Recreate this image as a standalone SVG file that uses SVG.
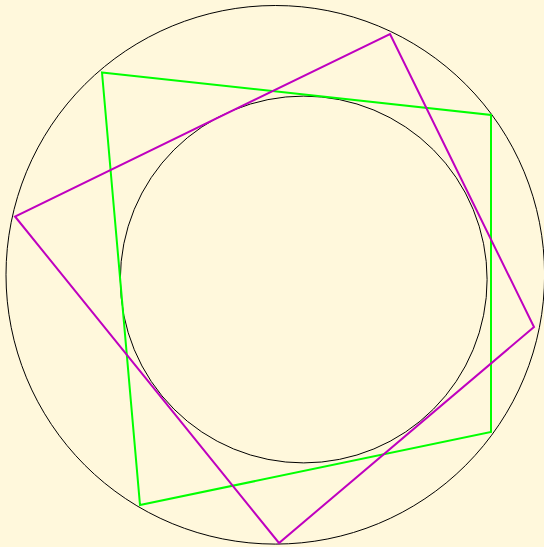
<svg xmlns="http://www.w3.org/2000/svg" width="544" height="547" viewBox="0 0 544 547">
<style>
.c{fill:none;stroke:#000;stroke-width:1}
.g{fill:none;stroke:#00ff00;stroke-width:2}
.m{fill:none;stroke:#bf00bf;stroke-width:2}
</style>
<rect width="544" height="547" fill="#fff8dc"/>
<g id="outer-circle"><circle class="c" cx="275.3" cy="274.8" r="269.3"/></g>
<g id="inner-circle"><circle class="c" cx="303.7" cy="279.5" r="183.4"/></g>
<g id="green-quad"><polygon class="g" points="102,72.5 491,115 491,432 140,505"/></g>
<g id="magenta-quad"><polygon class="m" points="390,34 534,327 279,543 15,216.5"/></g>
</svg>
